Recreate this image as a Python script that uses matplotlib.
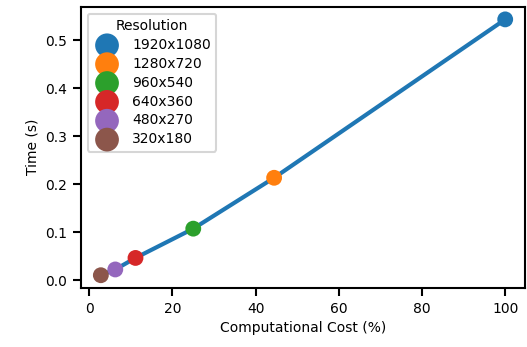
import matplotlib
matplotlib.use("Agg")
import matplotlib.pyplot as plt

resolutions = ["1920x1080", "1280x720", "960x540", "640x360", "480x270", "320x180"]
cost = [100.0, 44.44, 25.0, 11.11, 6.25, 2.78]
time_s = [0.543, 0.213, 0.107, 0.046, 0.022, 0.010]
colors = ["#1f77b4", "#ff7f0e", "#2ca02c", "#d62728", "#9467bd", "#8c564b"]

fig = plt.figure(figsize=(5.27, 3.47), dpi=100)
ax = fig.add_axes([0.153, 0.170, 0.844, 0.811])

ax.plot(cost, time_s, color="#1f77b4", lw=3, zorder=2)
for r, x, y, c in zip(resolutions, cost, time_s, colors):
    ax.scatter([x], [y], s=130, color=c, label=r, zorder=3, edgecolors="none")

for s in ax.spines.values():
    s.set_linewidth(1.5)
ax.tick_params(width=1.5, length=6, labelsize=10, pad=4)
ax.set_xlabel("Computational Cost (%)", fontsize=10)
ax.set_ylabel("Time (s)", fontsize=10)
ax.set_xticks([0, 20, 40, 60, 80, 100])
ax.set_yticks([0.0, 0.1, 0.2, 0.3, 0.4, 0.5])

leg = ax.legend(title="Resolution", loc="upper left", fontsize=10, title_fontsize=10,
                markerscale=1.5, handletextpad=0.8, labelspacing=0.35,
                borderpad=0.4, frameon=True)
leg.get_frame().set_linewidth(1.5)

fig.savefig("out.png", dpi=100)
